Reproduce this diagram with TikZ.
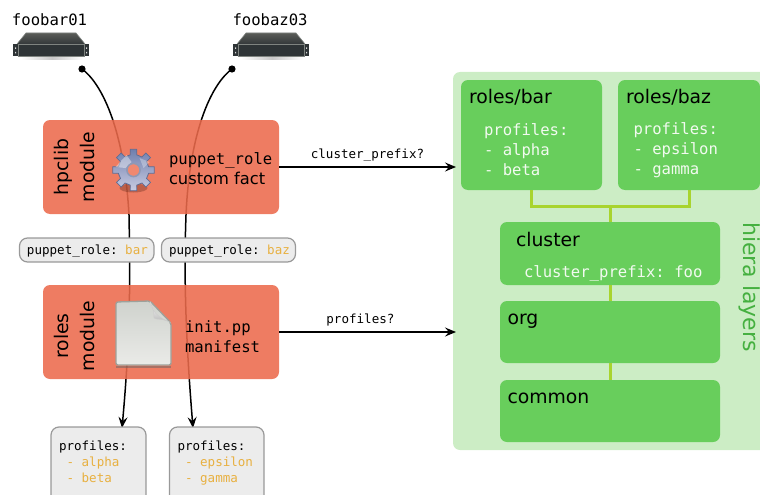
\documentclass[tikz,border=0pt]{standalone}
\usepackage{fontspec}
\setmainfont{DejaVu Sans}
\setmonofont{DejaVu Sans Mono}
\usetikzlibrary{arrows.meta,calc}
\definecolor{modred}{HTML}{EC6A4C}
\definecolor{hierabg}{HTML}{CCEDC5}
\definecolor{hierabox}{HTML}{68CE5C}
\definecolor{hieralink}{HTML}{A8D42E}
\definecolor{hieratxt}{HTML}{45B040}
\definecolor{amber}{HTML}{E8B040}
\definecolor{pillfill}{HTML}{ECECEC}
\definecolor{pilledge}{HTML}{999999}
\definecolor{linewhite}{HTML}{F2FAF0}
\definecolor{geartop}{HTML}{6F7FAE}
\definecolor{gearbot}{HTML}{C9CCE2}
\definecolor{gearedge}{HTML}{5F6C94}
\definecolor{srvtop}{HTML}{5A5C58}
\definecolor{srvmid}{HTML}{33383A}
\definecolor{srvfront}{HTML}{2E3436}
\definecolor{srvedge}{HTML}{7F8480}
\definecolor{doctop}{HTML}{CFD2CD}
\definecolor{docbot}{HTML}{EAEBE8}
\definecolor{docedge}{HTML}{9DA19B}
\newcommand{\amb}[1]{\textcolor{amber}{#1}}
\newcommand{\boxat}[5]{\node[#1,minimum width=#4-#2,minimum height=#5-#3,anchor=north west] at (#2,#3)}
\tikzset{
  x=1pt,y=-1pt,
  every node/.style={inner sep=0pt,outer sep=0pt},
  modbox/.style={fill=modred,fill opacity=.88,rounded corners=7pt},
  hierablock/.style={fill=hierabox,rounded corners=7pt},
  pillbox/.style={fill=pillfill,draw=pilledge,line width=1.2pt,rounded corners=8pt},
  profbox/.style={fill=pillfill,draw=pilledge,line width=1.2pt,rounded corners=8pt},
  wire/.style={line width=1.5pt,black,-{Stealth[length=11pt,width=9pt,inset=4pt]}},
  flow/.style={line width=1.4pt,black,-{Stealth[length=11pt,width=9pt,inset=4pt]}},
  layerlink/.style={hieralink,line width=3pt},
  bigtxt/.style={font=\fontsize{18.8}{24}\selectfont,anchor=base west},
  sidetxt/.style={font=\fontsize{18.8}{25.5}\selectfont,rotate=90,align=center},
  midmono/.style={font=\ttfamily\fontsize{15.6}{20}\selectfont,align=left,anchor=west},
  smallmono/.style={font=\ttfamily\fontsize{12.55}{16}\selectfont,align=left},
}
\newcommand{\servericon}[3]{%
  \begin{scope}[shift={(#1,#2)}]
    \shade[left color=white,right color=white,middle color=black!40,opacity=.55] (8,24) rectangle (70,28);
    \fill[srvfront] (0,12) rectangle (76,24);
    \shade[top color=srvtop,bottom color=srvmid] (4,12) -- (13,1) -- (63,1) -- (72,12) -- cycle;
    \draw[srvedge,line width=.6pt] (4,12) -- (13,1) -- (63,1) -- (72,12);
    \fill[srvfront] (5,12) rectangle (71,24);
    \draw[srvedge,line width=.9pt] (5,12) rectangle (71,24);
    \fill[black!15] (2,15.5) rectangle (3,17) (2,20) rectangle (3,21.5) (73,15.5) rectangle (74,17) (73,20) rectangle (74,21.5);
    \node (#3) at (38,12) {};
  \end{scope}}
\begin{document}
\begin{tikzpicture}
\useasboundingbox (0,0) rectangle (760,495);
\clip (0,0) rectangle (760,495);

% free ends of the connectors
\coordinate (w1s) at (82,69);
\coordinate (w2s) at (232,69);
\coordinate (w1e) at (122,428);
\coordinate (w2e) at (193,428);
\coordinate (f1e) at (456,167);
\coordinate (f2e) at (456,332);

% hiera panel
\boxat{fill=hierabg,rounded corners=7pt}{453}{72}{790}{450} (hiera) {};
\node[font=\fontsize{22}{24}\selectfont,text=hieratxt,rotate=-90] (hieralabel) at (750,287) {hiera layers};

% connectors under the modules
\draw[wire] (w1s) .. controls (100,82) and (124,125) .. (129,215) .. controls (130,270) and (131,330) .. (w1e);
\draw[wire] (w2s) .. controls (214,82) and (190,125) .. (186,215) .. controls (184,270) and (185,330) .. (w2e);
\fill (w1s) circle (3.6);
\fill (w2s) circle (3.6);

% servers
\servericon{13}{32}{srv1}
\servericon{233}{32}{srv2}
\node[font=\ttfamily\fontsize{15.6}{20}\selectfont,anchor=base west] (n1) at (12,25.5) {foobar01};
\node[font=\ttfamily\fontsize{15.6}{20}\selectfont,anchor=base west] (n2) at (232.5,25.5) {foobaz03};

% modules
\boxat{modbox}{43}{120}{279}{214} (hpclib) {};
\boxat{modbox}{43}{285}{279}{379} (rolesmod) {};
\node[sidetxt] (hpclibt) at (74.5,167) {hpclib\\module};
\node[sidetxt] (rolest) at (74.5,336) {roles\\module};
\node[font=\fontsize{16.3}{20}\selectfont,align=left,anchor=west] (facttxt) at (169,169)
  {{\ttfamily\fontsize{15.6}{20}\selectfont puppet\_role}\\custom fact};
\node[midmono] (inittxt) at (185,337) {init.pp\\manifest};

% gear icon
\begin{scope}[shift={(133.5,170)}]
  \fill[black!60!modred,opacity=.35] (0,18) ellipse (14 and 4.5);
  \shade[top color=geartop,bottom color=gearbot,draw=gearedge,line width=.8pt]
    (-12:15.5) -- (-9:21) -- (9:21) -- (12:15.5) -- (33:15.5) -- (36:21) -- (54:21) -- (57:15.5) -- (78:15.5) -- (81:21) -- (99:21) -- (102:15.5) -- (123:15.5) -- (126:21) -- (144:21) -- (147:15.5) -- (168:15.5) -- (171:21) -- (189:21) -- (192:15.5) -- (213:15.5) -- (216:21) -- (234:21) -- (237:15.5) -- (258:15.5) -- (261:21) -- (279:21) -- (282:15.5) -- (303:15.5) -- (306:21) -- (324:21) -- (327:15.5) -- cycle;
  \fill[white,opacity=.4] (-18,-3) -- (-7,-15) -- (-2,-8) -- (-8,-2) -- cycle;
  \fill[white,opacity=.3] (6,-12) -- (16,-8) -- (10,-2) -- cycle;
  \fill[modred!80!white] (0,0) circle (6);
  \draw[gearedge!70!white,line width=1.5pt] (0,0) circle (6.6);
\end{scope}

% document icon
\shade[top color=doctop,bottom color=docbot,draw=docedge,line width=1.3pt,rounded corners=2pt]
  (116,302) -- (150,301) -- (171,323) -- (171,365) -- (116,365) -- cycle;
\fill[black!60,opacity=.5] (116,365.5) rectangle (171,367.5);
\shade[top color=white,bottom color=black!28,draw=black!20,line width=.4pt]
  (150,301.5) .. controls (153,312) and (156,316) .. (170.5,322.5) .. controls (163,318) and (155,320) .. (154,318) .. controls (154,313) and (153,306) .. cycle;

% pills
\boxat{pillbox}{19.5}{238}{154}{262} (pill1) {};
\boxat{pillbox}{161.5}{238}{295.5}{262} (pill2) {};
\node[smallmono,anchor=base west] (pill1t) at (27,254) {puppet\_role: \amb{bar}};
\node[smallmono,anchor=base west] (pill2t) at (169,254) {puppet\_role: \amb{baz}};

% profile boxes
\boxat{profbox}{51}{427}{146}{515} (prof1) {};
\boxat{profbox}{169.5}{427}{264}{515} (prof2) {};
\node[smallmono,anchor=north west] (prof1t) at (59,441) {profiles:\\\ \amb{- alpha}\\\ \amb{- beta}};
\node[smallmono,anchor=north west] (prof2t) at (177.5,441) {profiles:\\\ \amb{- epsilon}\\\ \amb{- gamma}};

% arrows to hiera
\draw[flow] (hpclib.east) -- (f1e) node[pos=.5,above=5.5pt,smallmono] (q1) {cluster\_prefix?};
\draw[flow] (rolesmod.east) -- (f2e) node[pos=.46,above=5.5pt,smallmono] (q2) {profiles?};

% hiera blocks and links
\boxat{hierablock}{461}{80}{602}{190} (rbar) {};
\boxat{hierablock}{618}{80}{760}{190} (rbaz) {};
\boxat{hierablock}{500}{222}{720}{285} (cluster) {};
\boxat{hierablock}{500}{301}{720}{363} (org) {};
\boxat{hierablock}{500}{380}{720}{442} (common) {};
\coordinate (join) at (610.5,206.5);
\draw[layerlink] (rbar.south -| 531.5,0) |- (join);
\draw[layerlink] (rbaz.south -| 689,0) |- (join);
\draw[layerlink] (join) -- (join |- cluster.north);
\draw[layerlink] (join |- cluster.south) -- (join |- org.north);
\draw[layerlink] (join |- org.south) -- (join |- common.north);

\node[bigtxt] (t1) at (469,103.5) {roles/bar};
\node[bigtxt] (t2) at (626,103.5) {roles/baz};
\node[bigtxt] (t3) at (516,246) {cluster};
\node[bigtxt] (t4) at (507.5,324) {org};
\node[bigtxt] (t5) at (507.5,403) {common};
\node[midmono,text=linewhite] (w1) at (484,150) {profiles:\\- alpha\\- beta};
\node[midmono,text=linewhite] (w2) at (633.5,150) {profiles:\\- epsilon\\- gamma};
\node[midmono,text=linewhite,anchor=base west] (w3) at (524,277.5) {cluster\_prefix: foo};
\end{tikzpicture}
\end{document}
